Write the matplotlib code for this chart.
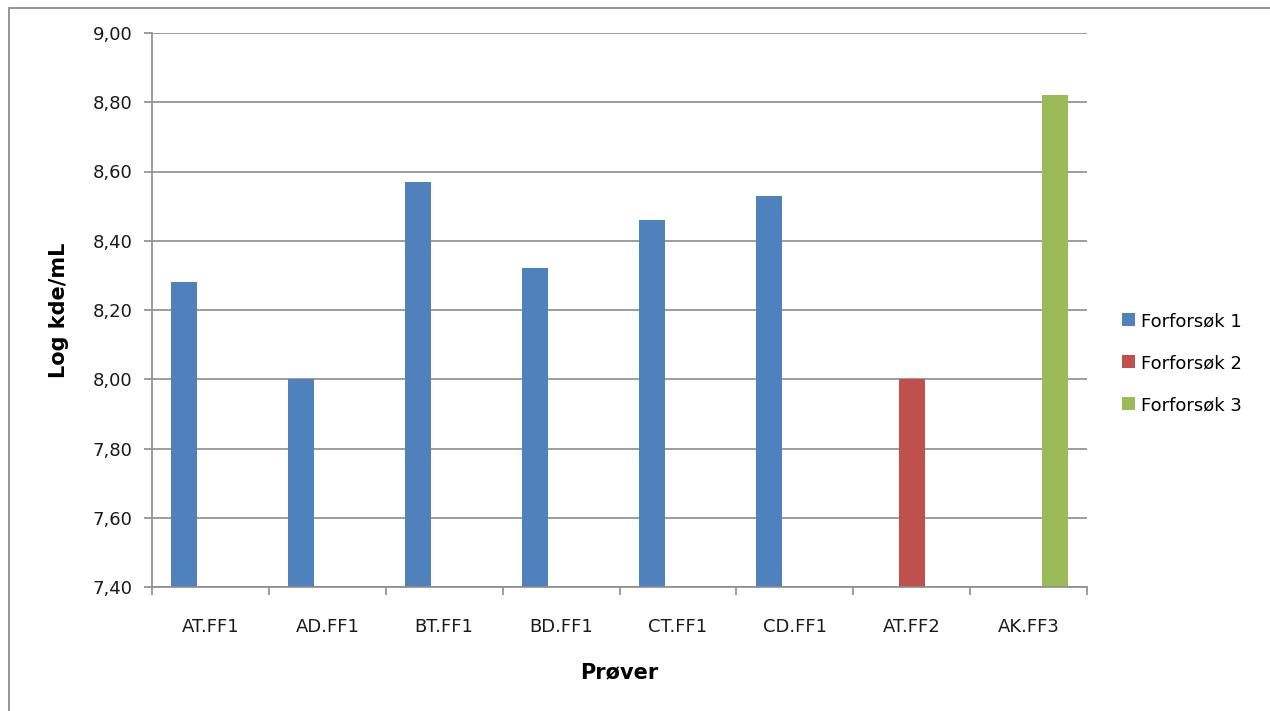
import numpy as np
import matplotlib
matplotlib.use('Agg')
import matplotlib.pyplot as plt
from matplotlib.patches import Rectangle

categories = ['AT.FF1', 'AD.FF1', 'BT.FF1', 'BD.FF1', 'CT.FF1', 'CD.FF1', 'AT.FF2', 'AK.FF3']
series_names = ['Forforsøk 1', 'Forforsøk 2', 'Forforsøk 3']
forforsok_1 = [8.28, 8.00, 8.57, 8.32, 8.46, 8.53, np.nan, np.nan]
forforsok_2 = [np.nan, np.nan, np.nan, np.nan, np.nan, np.nan, 8.00, np.nan]
forforsok_3 = [np.nan, np.nan, np.nan, np.nan, np.nan, np.nan, np.nan, 8.82]
yticks = [7.40, 7.60, 7.80, 8.00, 8.20, 8.40, 8.60, 8.80, 9.00]

colors = ['#4F81BD', '#C0504D', '#9BBB59']
grid_col = '#8C8C8C'
base = 7.40

plt.rcParams['font.family'] = ['DejaVu Sans']

fig = plt.figure(figsize=(12.7, 7.11), dpi=100)
# chart frame
fig.patches.append(Rectangle((9/1270, -0.1), 1.2, 1 - 8/711 + 0.1, transform=fig.transFigure,
                             fill=False, edgecolor='#8C8C8C', linewidth=1.3))
ax = fig.add_axes([152/1270, 1 - 587/711, (1087 - 152)/1270, (587 - 33)/711])

x = np.arange(len(categories))
w = 1 / 4.5
for k, vals in enumerate([forforsok_1, forforsok_2, forforsok_3]):
    v = np.array(vals, dtype=float)
    ax.bar(x + (k - 1) * w, v - base, bottom=base, width=w, color=colors[k],
           label=series_names[k], zorder=3)

ax.set_xlim(-0.5, len(categories) - 0.5)
ax.set_ylim(base, 9.00)
ax.set_yticks(yticks)
ax.set_yticklabels([('%.2f' % t).replace('.', ',') for t in yticks])
ax.yaxis.grid(True, color=grid_col, linewidth=1.2, zorder=0)

ax.set_xticks(x)
ax.set_xticklabels(categories)
ax.set_xticks(np.arange(len(categories) + 1) - 0.5, minor=True)
ax.tick_params(axis='x', which='major', length=0, pad=22, labelsize=13, labelcolor='#1a1a1a')
ax.tick_params(axis='x', which='minor', length=6, width=1.2, color=grid_col, direction='out')
ax.tick_params(axis='y', length=6, width=1.2, color=grid_col, pad=8, labelsize=13, labelcolor='#1a1a1a')

for s in ['top', 'right']:
    ax.spines[s].set_visible(False)
for s in ['left', 'bottom']:
    ax.spines[s].set_color(grid_col)
    ax.spines[s].set_linewidth(1.2)
    ax.spines[s].set_zorder(4)

ax.set_xlabel('Prøver', fontsize=15, fontweight='bold', labelpad=19)
ax.set_ylabel('Log kde/mL', fontsize=15, fontweight='bold', labelpad=17)

fig.legend(loc='center left', bbox_to_anchor=(1106/1270, 1 - 363/711), frameon=False,
           fontsize=13, handlelength=0.72, handleheight=0.72, handletextpad=0.33,
           labelspacing=1.33)

plt.savefig('out.png', dpi=100)
